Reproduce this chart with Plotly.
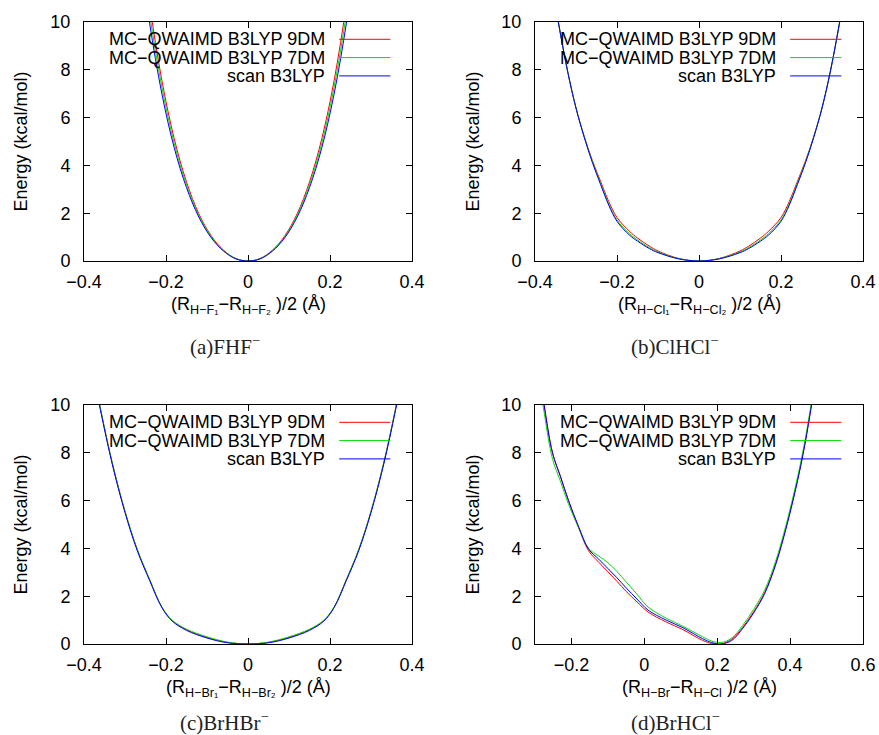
import plotly.graph_objects as go

# ---------------- data ----------------
SERIES_NAMES = ["MC\u2212QWAIMD B3LYP 9DM", "MC\u2212QWAIMD B3LYP 7DM", "scan B3LYP"]
SERIES_COLORS = ["#ff0000", "#00dd00", "#0000ff"]

# (a) FHF-
X_A = [-0.26, -0.24, -0.21, -0.18, -0.15, -0.12, -0.09, -0.06, -0.03, 0.0,
       0.03, 0.06, 0.09, 0.12, 0.15, 0.18, 0.21, 0.24, 0.26]
A_9DM = [13.4, 10.75, 7.55, 5.12, 3.31, 1.98, 1.06, 0.46, 0.11, 0.0,
         0.11, 0.46, 1.06, 1.98, 3.31, 5.12, 7.55, 10.75, 13.4]
A_7DM = [12.9, 10.35, 7.27, 4.93, 3.19, 1.91, 1.02, 0.44, 0.10, 0.0,
         0.10, 0.44, 1.02, 1.91, 3.19, 4.93, 7.27, 10.35, 12.9]
A_SCAN = [12.4, 9.95, 6.99, 4.74, 3.07, 1.84, 0.98, 0.42, 0.09, 0.0,
          0.09, 0.42, 0.98, 1.84, 3.07, 4.74, 6.99, 9.95, 12.4]

# (b) ClHCl-
X_B = [-0.36, -0.34, -0.32, -0.30, -0.28, -0.26, -0.24, -0.22, -0.20, -0.17, -0.15,
       -0.12, -0.10, -0.05, 0.0, 0.05, 0.10, 0.12, 0.15, 0.17, 0.20, 0.22, 0.24,
       0.26, 0.28, 0.30, 0.32, 0.34, 0.36]
B_9DM = [11.7, 9.7, 7.9, 6.4, 5.22, 4.2, 3.33, 2.48, 1.82, 1.25, 0.96, 0.61, 0.42, 0.11, 0.0,
         0.11, 0.42, 0.61, 0.96, 1.25, 1.82, 2.48, 3.33, 4.2, 5.22, 6.4, 7.9, 9.7, 11.7]
B_7DM = [11.7, 9.7, 7.9, 6.4, 5.2, 4.15, 3.25, 2.38, 1.72, 1.15, 0.88, 0.55, 0.38, 0.1, 0.0,
         0.1, 0.38, 0.55, 0.88, 1.15, 1.72, 2.38, 3.25, 4.15, 5.2, 6.4, 7.9, 9.7, 11.7]
B_SCAN = [11.7, 9.7, 7.9, 6.4, 5.18, 4.12, 3.2, 2.33, 1.66, 1.09, 0.83, 0.51, 0.35, 0.09, 0.0,
          0.09, 0.35, 0.51, 0.83, 1.09, 1.66, 2.33, 3.2, 4.12, 5.18, 6.4, 7.9, 9.7, 11.7]

# (c) BrHBr-
X_C = [-0.38, -0.36, -0.33, -0.30, -0.27, -0.24, -0.21, -0.185, -0.15, -0.10, -0.05, 0.0,
       0.05, 0.10, 0.15, 0.185, 0.21, 0.24, 0.27, 0.30, 0.33, 0.36, 0.38]
C_9DM = [11.6, 9.85, 7.5, 5.55, 3.95, 2.7, 1.54, 0.98, 0.6, 0.28, 0.07, 0.0,
         0.07, 0.28, 0.6, 0.98, 1.54, 2.7, 3.95, 5.55, 7.5, 9.85, 11.6]
C_7DM = [11.6, 9.85, 7.5, 5.55, 3.95, 2.7, 1.55, 1.0, 0.62, 0.30, 0.08, 0.0,
         0.08, 0.30, 0.62, 1.0, 1.55, 2.7, 3.95, 5.55, 7.5, 9.85, 11.6]
C_SCAN = [11.6, 9.8, 7.45, 5.5, 3.9, 2.66, 1.52, 0.96, 0.57, 0.25, 0.05, 0.0,
          0.05, 0.25, 0.57, 0.96, 1.52, 2.66, 3.9, 5.5, 7.45, 9.8, 11.6]

# (d) BrHCl-
X_D = [-0.29, -0.275, -0.252, -0.23, -0.208, -0.18, -0.153, -0.125, -0.10, -0.075, -0.05,
       -0.02, 0.01, 0.06, 0.106, 0.16, 0.185, 0.21, 0.24, 0.27, 0.30, 0.33, 0.36, 0.39,
       0.42, 0.44, 0.46, 0.48]
D_9DM = [11.6, 10.0, 8.0, 7.0, 6.0, 4.85, 3.9, 3.42, 3.02, 2.62, 2.2, 1.76, 1.34, 0.92, 0.6,
         0.15, 0.02, 0.0, 0.2, 0.7, 1.35, 2.15, 3.35, 4.95, 6.85, 8.35, 10.15, 12.1]
D_7DM = [11.3, 9.7, 7.75, 6.8, 5.85, 4.85, 4.0, 3.68, 3.4, 3.03, 2.6, 2.08, 1.55, 1.08, 0.74,
         0.3, 0.12, 0.06, 0.25, 0.78, 1.45, 2.25, 3.45, 5.05, 6.95, 8.45, 10.25, 12.2]
D_SCAN = [11.6, 10.0, 8.0, 7.0, 6.0, 4.9, 3.97, 3.55, 3.16, 2.77, 2.35, 1.88, 1.42, 1.0, 0.68,
          0.22, 0.06, 0.0, 0.15, 0.65, 1.3, 2.1, 3.3, 4.9, 6.8, 8.3, 10.1, 12.0]

X_TITLES = [
    "(R<sub>H\u2212F\u2081</sub>\u2212R<sub>H\u2212F\u2082</sub> )/2 (\u00c5)",
    "(R<sub>H\u2212Cl\u2081</sub>\u2212R<sub>H\u2212Cl\u2082</sub> )/2 (\u00c5)",
    "(R<sub>H\u2212Br\u2081</sub>\u2212R<sub>H\u2212Br\u2082</sub> )/2 (\u00c5)",
    "(R<sub>H\u2212Br</sub>\u2212R<sub>H\u2212Cl</sub> )/2 (\u00c5)",
]
CAPTIONS = ["(a)FHF<sup>\u2212</sup>", "(b)ClHCl<sup>\u2212</sup>",
            "(c)BrHBr<sup>\u2212</sup>", "(d)BrHCl<sup>\u2212</sup>"]
Y_TITLE = "Energy (kcal/mol)"
X_RANGES = [[-0.4, 0.4], [-0.4, 0.4], [-0.4, 0.4], [-0.3, 0.6]]
X_TICKS = [[-0.4, -0.2, 0, 0.2, 0.4]] * 3 + [[-0.2, 0, 0.2, 0.4, 0.6]]
Y_TICKS = [0, 2, 4, 6, 8, 10]

PANELS = [
    (X_A, [A_9DM, A_7DM, A_SCAN]),
    (X_B, [B_9DM, B_7DM, B_SCAN]),
    (X_C, [C_9DM, C_7DM, C_SCAN]),
    (X_D, [D_9DM, D_7DM, D_SCAN]),
]

# ---------------- layout geometry ----------------
W, H = 879, 735
COLS = [(84, 412), (535, 863)]
ROWS = [(22, 261), (405, 644)]
CAPTION_X = [225, 675]
CAPTION_Y = [345, 721]
SANS = "Liberation Sans, Arial, sans-serif"
SERIF = "Liberation Serif, Times New Roman, serif"
FS = 18

fig = go.Figure()
annotations = []
shapes = []

for i, (xs, ys_list) in enumerate(PANELS):
    r, c = divmod(i, 2)
    x0, x1 = COLS[c]
    y0, y1 = ROWS[r]
    sfx = "" if i == 0 else str(i + 1)
    xa, ya = "x" + sfx, "y" + sfx
    for name, color, ys in zip(SERIES_NAMES, SERIES_COLORS, ys_list):
        fig.add_trace(go.Scatter(x=xs, y=ys, mode="lines", name=name,
                                 line=dict(color=color, width=1, shape="spline", smoothing=1.0),
                                 xaxis=xa, yaxis=ya, showlegend=False))
    axis_common = dict(showline=True, mirror="ticks", linecolor="black", linewidth=1,
                       ticks="inside", ticklen=6, tickcolor="black", tickwidth=1,
                       showgrid=False, zeroline=False, automargin=False,
                       tickfont=dict(family=SANS, size=FS, color="black"))
    fig.layout["xaxis" + sfx] = dict(domain=[x0 / W, x1 / W], range=X_RANGES[i],
                                     tickvals=X_TICKS[i], anchor=ya,
                                     ticklabelstandoff=4, **axis_common)
    fig.layout["yaxis" + sfx] = dict(domain=[1 - y1 / H, 1 - y0 / H], range=[0, 10],
                                     tickvals=Y_TICKS, anchor=xa,
                                     ticklabelstandoff=9, **axis_common)
    pw, ph = x1 - x0, y1 - y0
    # axis titles
    annotations.append(dict(text=X_TITLES[i], xref=xa + " domain", yref=ya + " domain",
                            x=0.5, y=-44 / ph, xanchor="center", yanchor="middle",
                            showarrow=False, font=dict(family=SANS, size=FS, color="black")))
    annotations.append(dict(text=Y_TITLE, xref=xa + " domain", yref=ya + " domain",
                            x=-(64 if c == 0 else 63) / pw, y=0.5, textangle=-90,
                            xanchor="center", yanchor="middle",
                            showarrow=False, font=dict(family=SANS, size=FS, color="black")))
    # caption
    annotations.append(dict(text=CAPTIONS[i], xref="paper", yref="paper",
                            x=CAPTION_X[c] / W, y=1 - CAPTION_Y[r] / H,
                            xanchor="center", yanchor="middle", showarrow=False,
                            font=dict(family=SERIF, size=21, color="#222222")))
    # legend (gnuplot style: right-aligned text, sample line on the right)
    for k, (name, color) in enumerate(zip(SERIES_NAMES, SERIES_COLORS)):
        yy = 1 - (17.3 + 18.3 * k) / ph
        annotations.append(dict(text=name, xref=xa + " domain", yref=ya + " domain",
                                x=0.742, y=yy, xanchor="right", yanchor="middle",
                                showarrow=False, font=dict(family=SANS, size=FS, color="black")))
        shapes.append(dict(type="line", xref=xa + " domain", yref=ya + " domain",
                           x0=0.778, x1=0.934, y0=yy, y1=yy,
                           line=dict(color=color, width=1)))

fig.update_layout(template="none", width=W, height=H, margin=dict(l=0, r=0, t=0, b=0),
                  paper_bgcolor="white", plot_bgcolor="white",
                  annotations=annotations, shapes=shapes, showlegend=False)

fig.write_html("out.html")
